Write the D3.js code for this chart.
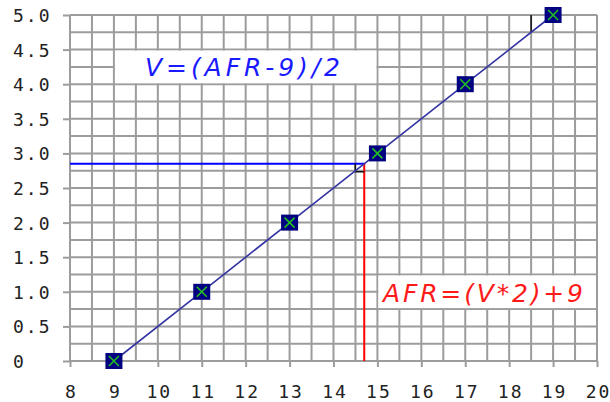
<!DOCTYPE html>
<html><head><meta charset="utf-8">
<script src="https://cdn.jsdelivr.net/npm/d3@7"></script>
<style>body{margin:0;background:#fff}svg{display:block}</style>
</head><body>
<script>
const afr = [9, 11, 13, 15, 17, 19];
const volts = [0, 1, 2, 3, 4, 5];
const xTickValues = [8,9,10,11,12,13,14,15,16,17,18,19,20];
const yTickValues = [0,0.5,1,1.5,2,2.5,3,3.5,4,4.5,5];
const yTickLabels = ["0","0.5","1.0","1.5","2.0","2.5","3.0","3.5","4.0","4.5","5.0"];
const readAFR = 14.7, readV = 2.85;
const formulaV = "V=(AFR-9)/2";
const formulaAFR = "AFR=(V*2)+9";

const W = 610, H = 402;
const svg = d3.select("body").append("svg").attr("width", W).attr("height", H);
const x = d3.scaleLinear().domain([8, 20]).range([70, 597]);
const y = d3.scaleLinear().domain([0, 5]).range([361, 15]);

// grid
const g = svg.append("g");
g.selectAll("line.v").data(d3.range(8, 20.01, 0.5)).join("line")
  .attr("x1", d => x(d)).attr("x2", d => x(d)).attr("y1", y(5)).attr("y2", y(0))
  .attr("stroke", "#9c9c9c").attr("stroke-width", 2);
g.selectAll("line.h").data(d3.range(0, 5.01, 0.25)).join("line")
  .attr("x1", x(8)).attr("x2", x(20)).attr("y1", d => y(d)).attr("y2", d => y(d))
  .attr("stroke", "#9c9c9c").attr("stroke-width", 2);

// white formula boxes
svg.append("rect").attr("x", x(9) + 1).attr("y", y(4.5) + 1)
  .attr("width", x(15) - x(9) - 2).attr("height", y(4.0) - y(4.5) - 2).attr("fill", "#fff");
svg.append("rect").attr("x", x(15) + 1).attr("y", y(1.25) + 1)
  .attr("width", x(20) - x(15) - 2).attr("height", y(0.75) - y(1.25) - 2).attr("fill", "#fff");

// axes
const fontFam = "'DejaVu Sans Mono', monospace";
const ya = svg.append("g").attr("transform", `translate(${x(8)},0)`)
  .call(d3.axisLeft(y).tickValues(yTickValues).tickFormat((d, i) => yTickLabels[i]).tickSize(7).tickSizeOuter(0));
ya.select(".domain").remove();
ya.selectAll(".tick line").attr("stroke", "#9c9c9c").attr("stroke-width", 2);
ya.selectAll(".tick text").attr("text-anchor", "start").attr("x", 13 - x(8)).attr("dy", "0.36em")
  .attr("fill", "#222").style("font-family", fontFam).style("font-size", "18px").style("letter-spacing", "2px");

const xa = svg.append("g").attr("transform", `translate(0,${y(0)})`)
  .call(d3.axisBottom(x).tickValues(xTickValues).tickFormat(d3.format("d")).tickSize(6).tickSizeOuter(0));
xa.select(".domain").remove();
xa.selectAll(".tick line").attr("stroke", "#9c9c9c").attr("stroke-width", 2);
xa.selectAll(".tick text").attr("y", 24).attr("dy", "0.71em").attr("dx", "1px")
  .attr("fill", "#222").style("font-family", fontFam).style("font-size", "18px").style("letter-spacing", "2px");

// small black tick at top
svg.append("line").attr("x1", x(18.5)).attr("x2", x(18.5)).attr("y1", y(5)).attr("y2", y(4.75))
  .attr("stroke", "#111").attr("stroke-width", 1.5);

// reading lines
svg.append("line").attr("x1", x(8)).attr("x2", x(readAFR)).attr("y1", y(readV)).attr("y2", y(readV))
  .attr("stroke", "#0000ff").attr("stroke-width", 2);
svg.append("line").attr("x1", x(readAFR)).attr("x2", x(readAFR)).attr("y1", y(readV)).attr("y2", y(0))
  .attr("stroke", "#ff0000").attr("stroke-width", 2);
svg.append("path")
  .attr("d", `M${x(readAFR) - 9},${y(readV)} V${y(readV) + 8} H${x(readAFR)}`)
  .attr("fill", "none").attr("stroke", "#111").attr("stroke-width", 1.5);

// data line
const pts = afr.map((a, i) => [a, volts[i]]);
svg.append("path").datum(pts)
  .attr("d", d3.line().x(d => x(d[0])).y(d => y(d[1])))
  .attr("fill", "none").attr("stroke", "#3333a3").attr("stroke-width", 1.6);

// markers
const mk = svg.selectAll("g.mk").data(pts).join("g")
  .attr("transform", d => `translate(${x(d[0])},${y(d[1])})`);
mk.append("rect").attr("x", -8.5).attr("y", -8).attr("width", 17).attr("height", 16).attr("fill", "#000080");
mk.append("path").attr("d", "M-5,-5L5,5M-5,5L5,-5").attr("stroke", "#22c022").attr("stroke-width", 1.6);

// formula texts
svg.append("text").attr("x", 145).attr("y", 76).text(formulaV)
  .attr("textLength", 195).attr("lengthAdjust", "spacing")
  .attr("fill", "#1a1aff").style("font-family", "'DejaVu Sans', sans-serif").style("font-style", "italic").style("font-size", "25px");
svg.append("text").attr("x", 383).attr("y", 302).text(formulaAFR)
  .attr("textLength", 200).attr("lengthAdjust", "spacing")
  .attr("fill", "#ff1a1a").style("font-family", "'DejaVu Sans', sans-serif").style("font-style", "italic").style("font-size", "25px");
</script>
</body></html>
